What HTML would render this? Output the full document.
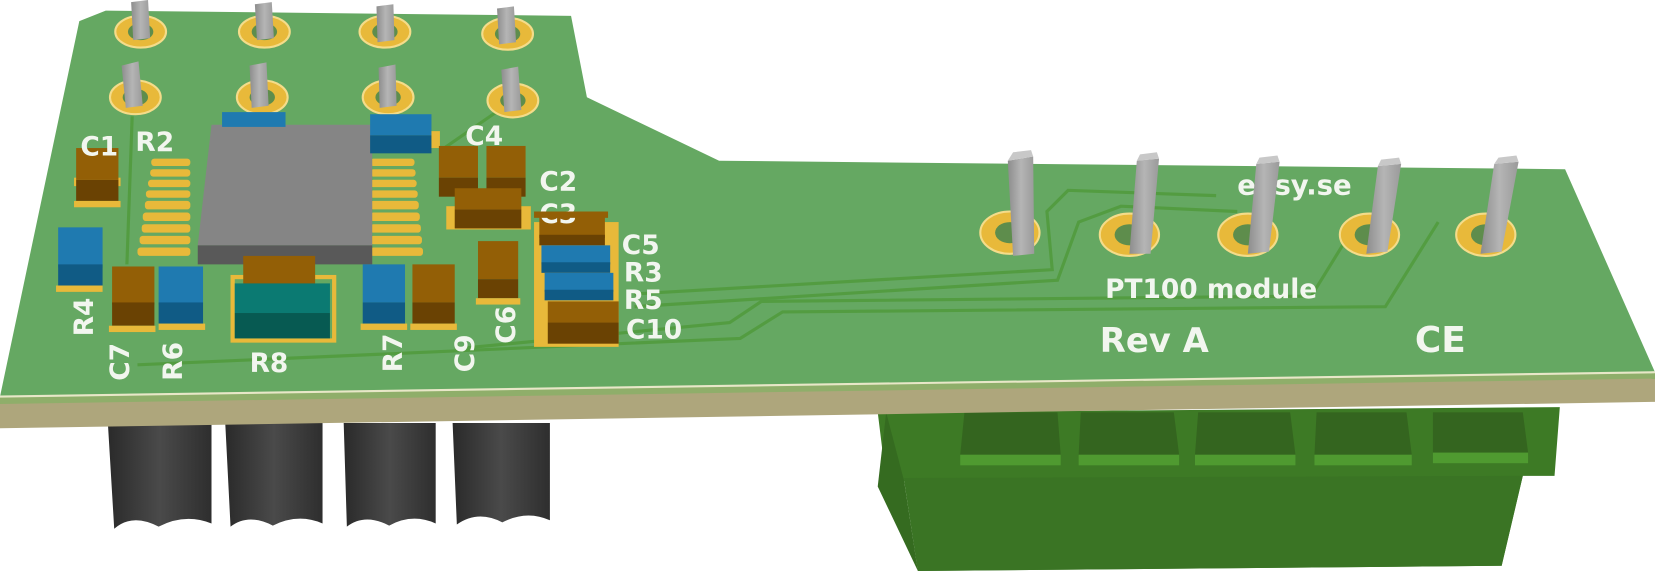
<!DOCTYPE html>
<html><head><meta charset="utf-8"><style>
html,body{margin:0;padding:0;background:#fff;width:1658px;height:587px;overflow:hidden}
svg text{font-family:"DejaVu Sans","Liberation Sans",sans-serif;font-weight:bold;fill:#f2f6ef}
</style></head><body>
<svg width="1658" height="587" viewBox="0 0 1658 587" xmlns="http://www.w3.org/2000/svg">
<defs>
<linearGradient id="hdr" x1="0" x2="1"><stop offset="0" stop-color="#2a2a2a"/><stop offset="0.5" stop-color="#4a4a4a"/><stop offset="1" stop-color="#2e2e2e"/></linearGradient>
<linearGradient id="pin" x1="0" x2="1"><stop offset="0" stop-color="#8d8d8d"/><stop offset="0.5" stop-color="#b5b5b5"/><stop offset="1" stop-color="#9a9a9a"/></linearGradient>
</defs>
<g transform="scale(1.0575)">
<!-- black headers -->
<g fill="url(#hdr)">
<path d="M102 400 H200 V495 Q175 485 150 498 Q125 485 108 500 Z"/>
<path d="M213 400 H305 V495 Q282 485 258 497 Q235 485 218 498 Z"/>
<path d="M325 400 H412 V495 Q390 485 368 497 Q345 485 328 498 Z"/>
<path d="M428 400 H520 V492 Q498 482 475 494 Q452 482 432 496 Z"/>
</g>
<!-- terminal block -->
<path d="M830 390 L1475 385 L1470 450 L1440 450 L1420 535 L868 540 L855 455 L838 455 Z" fill="#3d7a25"/>
<path d="M855 452 L1440 450 L1420 535 L868 540 Z" fill="#3a7424"/>
<path d="M838 390 L855 455 L868 540 L830 460 Z" fill="#356b20"/>
<g fill="#34651f">
<path d="M912 390 H1000 L1003 430 H908 Z"/><path d="M1022 390 H1110 L1115 430 H1020 Z"/>
<path d="M1133 390 H1220 L1225 430 H1130 Z"/><path d="M1245 390 H1330 L1335 430 H1243 Z"/>
<path d="M1355 390 H1440 L1445 428 H1355 Z"/>
</g>
<g fill="#4f9a30">
<rect x="908" y="430" width="95" height="10"/><rect x="1020" y="430" width="95" height="10"/>
<rect x="1130" y="430" width="95" height="10"/><rect x="1243" y="430" width="92" height="10"/>
<rect x="1355" y="428" width="90" height="10"/>
</g>
<!-- board edge -->
<path d="M0 375 L1565 352 L1565 380 L0 405 Z" fill="#aea67c"/>
<path d="M0 375 L1565 352 L1565 358 L0 382 Z" fill="#8fae6a"/>
<!-- board top -->
<path d="M0 375 L75 20 L100 10 L540 15 L555 92 L680 152 L1480 160 L1565 352 Z" fill="#65a862"/>
<path d="M0 375 L1565 352" stroke="#e8e7c8" stroke-width="2"/>
<!-- traces -->
<g fill="none" stroke="#4f9a3a" stroke-width="3" opacity="0.8">
<path d="M130 345 L700 320 L740 295 L1310 290 L1360 210"/>
<path d="M430 330 L690 305 L720 285 L1240 280 L1280 215"/>
<path d="M600 290 L1000 265 L1020 210 L1060 195 L1170 200"/>
<path d="M600 278 L995 255 L990 200 L1010 180 L1150 185"/>
<path d="M125 110 L120 250"/><path d="M478 100 L420 140"/>
</g>
<!-- top header pads & pins -->
<g>
<g fill="#e8b93a" stroke="#f4dc8a" stroke-width="2">
<ellipse cx="133" cy="30" rx="24" ry="15"/><ellipse cx="250" cy="30" rx="24" ry="15"/><ellipse cx="364" cy="30" rx="24" ry="15"/><ellipse cx="480" cy="32" rx="24" ry="15"/>
<ellipse cx="128" cy="92" rx="24" ry="16"/><ellipse cx="248" cy="92" rx="24" ry="16"/><ellipse cx="367" cy="92" rx="24" ry="16"/><ellipse cx="485" cy="95" rx="24" ry="16"/>
</g>
<g fill="#5e8d4c"><ellipse cx="133" cy="30" rx="12" ry="8"/><ellipse cx="250" cy="30" rx="12" ry="8"/><ellipse cx="364" cy="30" rx="12" ry="8"/><ellipse cx="480" cy="32" rx="12" ry="8"/>
<ellipse cx="128" cy="92" rx="12" ry="8"/><ellipse cx="248" cy="92" rx="12" ry="8"/><ellipse cx="367" cy="92" rx="12" ry="8"/><ellipse cx="485" cy="95" rx="12" ry="8"/></g>
<g fill="url(#pin)">
<path d="M124 2 L140 0 L142 36 L126 38 Z"/><path d="M241 4 L257 2 L259 36 L243 38 Z"/><path d="M356 6 L372 4 L373 38 L357 40 Z"/><path d="M470 8 L486 6 L488 40 L472 42 Z"/>
<path d="M115 62 L131 58 L135 100 L119 102 Z"/><path d="M236 62 L252 59 L254 100 L238 102 Z"/><path d="M358 64 L374 61 L375 100 L359 102 Z"/><path d="M474 66 L490 63 L493 104 L477 106 Z"/>
</g>
</g>
<!-- IC pads -->
<g fill="#e8b93a">
<rect x="143" y="150" width="37" height="7" rx="3"/><rect x="142" y="160" width="38" height="7" rx="3"/><rect x="140" y="170" width="40" height="7" rx="3"/><rect x="138" y="180" width="42" height="7" rx="3"/><rect x="137" y="190" width="43" height="8" rx="3"/><rect x="135" y="201" width="45" height="8" rx="3"/><rect x="134" y="212" width="46" height="8" rx="3"/><rect x="132" y="223" width="48" height="8" rx="3"/><rect x="130" y="234" width="50" height="8" rx="3"/>
<rect x="350" y="150" width="42" height="7" rx="3"/><rect x="350" y="160" width="43" height="7" rx="3"/><rect x="350" y="170" width="44" height="7" rx="3"/><rect x="350" y="180" width="45" height="7" rx="3"/><rect x="350" y="190" width="46" height="8" rx="3"/><rect x="350" y="201" width="47" height="8" rx="3"/><rect x="350" y="212" width="48" height="8" rx="3"/><rect x="350" y="223" width="49" height="8" rx="3"/><rect x="350" y="234" width="50" height="8" rx="3"/>
</g>
<!-- IC -->
<path d="M200 118 H352 V232 H187 Z" fill="#858585"/>
<path d="M187 232 H352 V250 H187 Z" fill="#595959"/>
<g>
<rect x="210" y="106" width="60" height="14" fill="#1f7ab0"/>
<rect x="350" y="108" width="58" height="20" fill="#1f7ab0"/><rect x="350" y="128" width="58" height="17" fill="#105b85"/><rect x="408" y="124" width="8" height="16" fill="#e8b93a"/>
<rect x="70" y="168" width="44" height="8" fill="#e8b93a"/><rect x="72" y="140" width="40" height="30" fill="#935f06"/><rect x="72" y="170" width="40" height="20" fill="#6a4203"/><rect x="70" y="190" width="44" height="6" fill="#e8b93a"/>
<rect x="55" y="215" width="42" height="38" fill="#1f7ab0"/><rect x="55" y="250" width="42" height="20" fill="#105b85"/><rect x="53" y="270" width="44" height="6" fill="#e8b93a"/>
<rect x="106" y="252" width="40" height="36" fill="#935f06"/><rect x="106" y="286" width="40" height="22" fill="#6a4203"/><rect x="103" y="308" width="44" height="6" fill="#e8b93a"/>
<rect x="150" y="252" width="42" height="36" fill="#1f7ab0"/><rect x="150" y="286" width="42" height="20" fill="#105b85"/><rect x="150" y="306" width="44" height="6" fill="#e8b93a"/>
<rect x="218" y="260" width="100" height="64" fill="#e8b93a"/><rect x="222" y="264" width="92" height="56" fill="#65a862"/>
<rect x="230" y="242" width="68" height="28" fill="#935f06"/>
<rect x="222" y="268" width="90" height="28" fill="#0b7a72"/><rect x="222" y="296" width="90" height="24" fill="#075a52"/>
<rect x="343" y="250" width="40" height="36" fill="#1f7ab0"/><rect x="343" y="286" width="40" height="20" fill="#105b85"/><rect x="341" y="306" width="44" height="6" fill="#e8b93a"/>
<rect x="390" y="250" width="40" height="36" fill="#935f06"/><rect x="390" y="286" width="40" height="20" fill="#6a4203"/><rect x="388" y="306" width="44" height="6" fill="#e8b93a"/>
<rect x="452" y="228" width="38" height="36" fill="#935f06"/><rect x="452" y="264" width="38" height="18" fill="#6a4203"/><rect x="450" y="282" width="42" height="6" fill="#e8b93a"/>
<rect x="415" y="138" width="37" height="30" fill="#935f06"/><rect x="415" y="168" width="37" height="18" fill="#6a4203"/>
<rect x="460" y="138" width="37" height="30" fill="#935f06"/><rect x="460" y="168" width="37" height="18" fill="#6a4203"/>
<rect x="422" y="195" width="80" height="22" fill="#e8b93a"/>
<rect x="430" y="178" width="63" height="20" fill="#935f06"/><rect x="430" y="198" width="63" height="18" fill="#6a4203"/>
<rect x="505" y="210" width="80" height="118" fill="#e8b93a"/>
<rect x="510" y="205" width="62" height="20" fill="#935f06"/><rect x="510" y="222" width="62" height="10" fill="#6a4203"/>
<rect x="512" y="232" width="65" height="18" fill="#1f7ab0"/><rect x="512" y="248" width="65" height="10" fill="#105b85"/>
<rect x="515" y="258" width="65" height="18" fill="#1f7ab0"/><rect x="515" y="274" width="65" height="10" fill="#105b85"/>
<rect x="518" y="285" width="67" height="20" fill="#935f06"/><rect x="518" y="305" width="67" height="20" fill="#6a4203"/>
</g>
<g font-size="25">
<text x="76" y="147">C1</text><text x="128" y="143">R2</text><text x="440" y="137">C4</text>
<text x="510" y="180">C2</text><text x="510" y="211">C3</text>
<text x="588" y="240">C5</text><text x="590" y="266">R3</text><text x="590" y="292">R5</text><text x="592" y="320">C10</text>
<text x="236" y="352">R8</text>
<text transform="translate(88,318) rotate(-90)">R4</text>
<text transform="translate(122,360) rotate(-90)">C7</text>
<text transform="translate(172,360) rotate(-90)">R6</text>
<text transform="translate(380,352) rotate(-90)">R7</text>
<text transform="translate(448,352) rotate(-90)">C9</text>
<text transform="translate(487,325) rotate(-90)">C6</text>
</g>
<rect x="505" y="200" width="70" height="6" fill="#935f06"/>
<text x="1170" y="184" font-size="26">easy.se</text>
<g fill="#e8b93a" stroke="#f4dc8a" stroke-width="2">
<ellipse cx="955" cy="220" rx="28" ry="20"/><ellipse cx="1068" cy="222" rx="28" ry="20"/><ellipse cx="1180" cy="222" rx="28" ry="20"/><ellipse cx="1295" cy="222" rx="28" ry="20"/><ellipse cx="1405" cy="222" rx="28" ry="20"/>
</g>
<g fill="#5e8d4c"><ellipse cx="955" cy="220" rx="14" ry="10"/><ellipse cx="1068" cy="222" rx="14" ry="10"/><ellipse cx="1180" cy="222" rx="14" ry="10"/><ellipse cx="1295" cy="222" rx="14" ry="10"/><ellipse cx="1405" cy="222" rx="14" ry="10"/></g>
<g fill="url(#pin)">
<path d="M953 152 L977 148 L978 240 L958 242 Z"/><path d="M1075 152 L1096 150 L1088 240 L1068 240 Z"/>
<path d="M1188 155 L1210 153 L1200 238 L1180 240 Z"/><path d="M1303 157 L1325 155 L1312 238 L1292 240 Z"/>
<path d="M1413 155 L1436 153 L1420 238 L1400 240 Z"/>
</g>
<g fill="#c8c8c8"><path d="M953 152 L977 148 L975 142 L958 144 Z"/><path d="M1075 152 L1096 150 L1094 144 L1078 146 Z"/><path d="M1188 155 L1210 153 L1208 147 L1191 149 Z"/><path d="M1303 157 L1325 155 L1323 149 L1306 151 Z"/><path d="M1413 155 L1436 153 L1434 147 L1417 149 Z"/></g>
<text x="1045" y="282" font-size="25">PT100 module</text>
<text x="1040" y="333" font-size="32" font-weight="normal">Rev A</text>
<text x="1338" y="333" font-size="34" font-weight="normal">CE</text>
</g>
</svg>
</body></html>
